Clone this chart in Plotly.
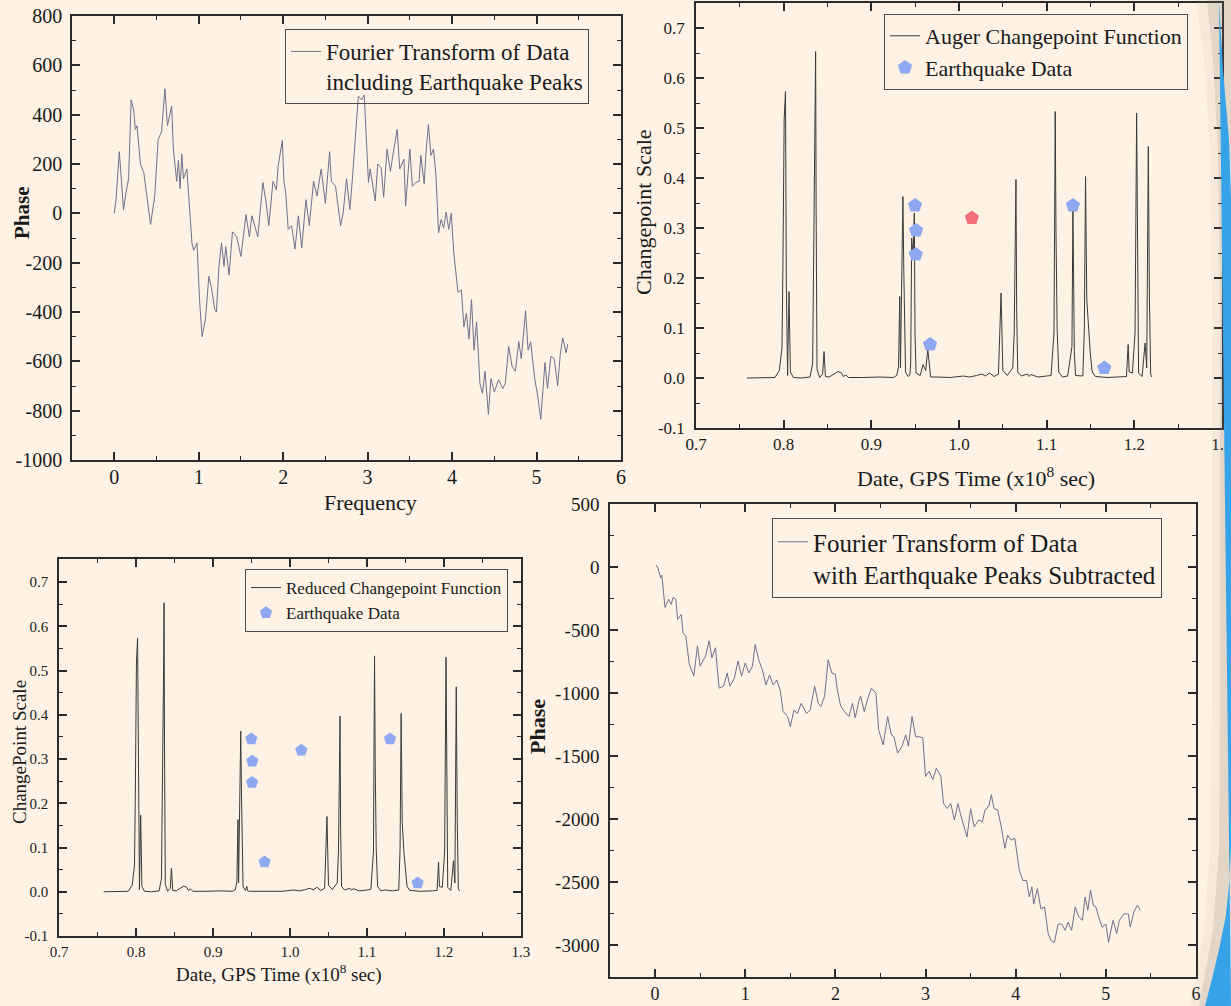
import plotly.graph_objects as go
import numpy as np

# ---------------- data ----------------
freq_with_eq = [0.0, 0.02, 0.06, 0.09, 0.11, 0.14, 0.17, 0.2, 0.23, 0.25, 0.27, 0.31, 0.35, 0.38, 0.43,
                0.48, 0.52, 0.56, 0.6, 0.63, 0.68, 0.7, 0.74, 0.76, 0.78, 0.8, 0.82, 0.86, 0.88, 0.92,
                0.94, 0.98, 1.01, 1.04, 1.08, 1.12, 1.15, 1.19, 1.21, 1.24, 1.27, 1.3, 1.32, 1.36, 1.4,
                1.45, 1.5, 1.56, 1.6, 1.63, 1.7, 1.76, 1.8, 1.83, 1.88, 1.92, 1.94, 1.99, 2.01, 2.03,
                2.06, 2.1, 2.14, 2.18, 2.22, 2.27, 2.31, 2.36, 2.4, 2.45, 2.5, 2.55, 2.57, 2.62, 2.68,
                2.71, 2.75, 2.79, 2.82, 2.89, 2.93, 2.96, 3.01, 3.03, 3.09, 3.12, 3.16, 3.19, 3.23, 3.27,
                3.31, 3.35, 3.38, 3.43, 3.45, 3.5, 3.53, 3.57, 3.61, 3.63, 3.67, 3.69, 3.72, 3.75, 3.78,
                3.81, 3.84, 3.87, 3.9, 3.93, 3.96, 3.99, 4.02, 4.07, 4.11, 4.14, 4.17, 4.2, 4.23, 4.26,
                4.29, 4.33, 4.36, 4.39, 4.43, 4.46, 4.5, 4.55, 4.6, 4.63, 4.67, 4.71, 4.75, 4.79, 4.82,
                4.87, 4.9, 4.93, 4.98, 5.01, 5.05, 5.1, 5.13, 5.17, 5.21, 5.25, 5.28, 5.31, 5.35, 5.37]
phase_with_eq = [0, 50, 250, 110, 15, 85, 140, 460, 420, 340, 355, 200, 165, 85, -45,
                 70, 300, 330, 505, 355, 435, 260, 130, 215, 100, 240, 140, 180, 85, -120,
                 -150, -120, -350, -500, -430, -255, -300, -390, -400, -215, -120, -215, -135, -250, -75,
                 -95, -175, -5, -95, -10, -95, 125, 40, -50, 130, 95, 190, 295, 125, 85,
                 -65, -50, -145, -10, -140, 55, -50, 130, 70, 180, 40, 250, 130, 110, -50,
                 0, 140, 15, 140, 475, 460, 480, 125, 180, 50, 200, 185, 65, 260, 170,
                 260, 340, 180, 220, 30, 260, 110, 125, 130, 235, 120, 240, 360, 235, 260,
                 150, -80, -25, -60, 5, -65, 0, -160, -320, -310, -460, -405, -510, -350, -555,
                 -440, -690, -730, -640, -815, -670, -725, -675, -710, -690, -540, -620, -640, -520, -590,
                 -395, -555, -520, -675, -730, -835, -605, -710, -580, -590, -700, -575, -505, -565, -530]

freq_subtracted = [0.015, 0.035, 0.06, 0.075, 0.11, 0.15, 0.18, 0.2, 0.23, 0.25, 0.29, 0.31, 0.34, 0.38, 0.43,
                   0.47, 0.5, 0.56, 0.6, 0.63, 0.67, 0.71, 0.76, 0.8, 0.83, 0.88, 0.92, 0.96, 1.0, 1.04,
                   1.08, 1.11, 1.15, 1.19, 1.23, 1.27, 1.31, 1.35, 1.39, 1.42, 1.47, 1.5, 1.54, 1.58, 1.62,
                   1.68, 1.72, 1.77, 1.81, 1.84, 1.88, 1.92, 1.96, 2.0, 2.02, 2.06, 2.1, 2.15, 2.19, 2.22,
                   2.26, 2.28, 2.32, 2.36, 2.4, 2.45, 2.48, 2.53, 2.58, 2.62, 2.65, 2.69, 2.74, 2.78, 2.81,
                   2.85, 2.89, 2.93, 2.97, 3.0, 3.04, 3.08, 3.12, 3.17, 3.2, 3.24, 3.28, 3.32, 3.36, 3.39,
                   3.46, 3.5, 3.54, 3.59, 3.63, 3.66, 3.7, 3.73, 3.76, 3.8, 3.84, 3.88, 3.91, 3.95, 3.99,
                   4.04, 4.08, 4.12, 4.15, 4.18, 4.2, 4.24, 4.28, 4.32, 4.36, 4.39, 4.43, 4.47, 4.51, 4.55,
                   4.58, 4.62, 4.66, 4.7, 4.74, 4.77, 4.8, 4.83, 4.86, 4.89, 4.92, 4.96, 5.0, 5.03, 5.08,
                   5.12, 5.15, 5.2, 5.25, 5.27, 5.31, 5.35, 5.38]
phase_subtracted = [15, -15, -85, -65, -320, -255, -295, -240, -255, -415, -375, -520, -545, -770, -865,
                    -625, -785, -705, -585, -720, -640, -960, -945, -840, -945, -880, -745, -865, -760, -840,
                    -785, -615, -735, -815, -935, -855, -935, -895, -985, -1145, -1185, -1265, -1135, -1160, -1080,
                    -1160, -1135, -945, -1080, -1105, -1025, -735, -840, -850, -970, -1105, -1145, -1185, -1080, -1195,
                    -1065, -1025, -1145, -1040, -960, -1000, -1290, -1410, -1185, -1330, -1345, -1475, -1420, -1330, -1420,
                    -1185, -1345, -1345, -1355, -1660, -1620, -1685, -1595, -1660, -1875, -1915, -1875, -2005, -1875, -1965,
                    -2140, -1915, -2060, -2005, -2020, -1925, -1900, -1805, -1915, -1925, -2060, -2230, -2125, -2165, -2150,
                    -2405, -2485, -2485, -2615, -2535, -2670, -2550, -2710, -2695, -2905, -2960, -2975, -2830, -2830, -2880,
                    -2815, -2880, -2695, -2775, -2800, -2615, -2720, -2560, -2680, -2695, -2775, -2855, -2830, -2975, -2800,
                    -2905, -2800, -2750, -2750, -2855, -2735, -2680, -2720]

gps_time = [0.758, 0.770, 0.780, 0.790, 0.795, 0.798, 0.799, 0.8005, 0.802, 0.803, 0.8044, 0.806, 0.8076,
            0.811, 0.820, 0.830, 0.833, 0.8356, 0.8364, 0.837, 0.838, 0.841, 0.8444, 0.846, 0.8476, 0.852,
            0.857, 0.862, 0.866, 0.868, 0.871, 0.874, 0.890, 0.910, 0.925, 0.929, 0.931, 0.9324, 0.9332,
            0.935, 0.936, 0.937, 0.939, 0.942, 0.944, 0.9449, 0.946, 0.9476, 0.949, 0.9498, 0.951, 0.9556,
            0.959, 0.962, 0.9644, 0.966, 0.9676, 0.975, 0.990, 1.005, 1.012, 1.020, 1.026, 1.030, 1.035,
            1.040, 1.045, 1.048, 1.0489, 1.050, 1.055, 1.058, 1.0613, 1.063, 1.065, 1.0658, 1.067, 1.071,
            1.078, 1.080, 1.082, 1.090, 1.100, 1.105, 1.1084, 1.1098, 1.1107, 1.112, 1.1138, 1.118, 1.124,
            1.1289, 1.130, 1.1316, 1.133, 1.1413, 1.143, 1.1444, 1.1458, 1.148, 1.1498, 1.152, 1.1556,
            1.170, 1.185, 1.1911, 1.193, 1.1942, 1.1978, 1.2009, 1.2027, 1.2036, 1.2049, 1.2089, 1.2124,
            1.2142, 1.216, 1.2173, 1.2187, 1.220]
auger_scale = [0, 0, 0, 0.001, 0.015, 0.06, 0.21, 0.517, 0.573, 0.183, 0.005, 0.173, 0.012,
               0.001, 0, 0.002, 0.03, 0.47, 0.653, 0.33, 0.017, 0.001, 0.008, 0.053, 0.003, 0.002,
               0.008, 0.013, 0.01, 0.003, 0.006, 0.001, 0.001, 0.002, 0.001, 0.005, 0.023, 0.163, 0.02,
               0.27, 0.363, 0.217, 0.012, 0.003, 0.006, 0.03, 0.28, 0.243, 0.33, 0.09, 0.01, 0.005,
               0.027, 0.015, 0.057, 0.03, 0.002, 0.002, 0.001, 0.004, 0.002, 0.005, 0.008, 0.004, 0.01,
               0.003, 0.008, 0.17, 0.117, 0.015, 0.005, 0.012, 0.02, 0.09, 0.397, 0.137, 0.012, 0.004,
               0.008, 0.003, 0.007, 0.002, 0.003, 0.005, 0.09, 0.533, 0.29, 0.097, 0.012, 0.002, 0.004,
               0.063, 0.343, 0.05, 0.005, 0.004, 0.097, 0.403, 0.157, 0.09, 0.05, 0.012, 0.003,
               0.001, 0.002, 0.003, 0.067, 0.012, 0.01, 0.09, 0.53, 0.27, 0.01, 0.003, 0.07,
               0.02, 0.463, 0.157, 0.008, 0.002]
reduced_scale = [0, 0, 0, 0.001, 0.015, 0.06, 0.21, 0.517, 0.573, 0.183, 0.005, 0.173, 0.012,
                 0.001, 0, 0.002, 0.03, 0.47, 0.653, 0.33, 0.017, 0.001, 0.008, 0.053, 0.003, 0.002,
                 0.008, 0.013, 0.01, 0.003, 0.006, 0.001, 0.001, 0.002, 0.001, 0.005, 0.023, 0.163, 0.02,
                 0.27, 0.363, 0.217, 0.012, 0.003, 0.012, 0.002, 0.001, 0.001, 0.001, 0.001, 0.001, 0.001,
                 0.001, 0.001, 0.001, 0.001, 0.001, 0.002, 0.001, 0.004, 0.002, 0.005, 0.008, 0.004, 0.01,
                 0.003, 0.008, 0.17, 0.117, 0.015, 0.005, 0.012, 0.02, 0.09, 0.397, 0.137, 0.012, 0.004,
                 0.008, 0.003, 0.007, 0.002, 0.003, 0.005, 0.09, 0.533, 0.29, 0.097, 0.012, 0.002, 0.004,
                 0.003, 0.002, 0.002, 0.002, 0.004, 0.097, 0.403, 0.157, 0.09, 0.05, 0.012, 0.003,
                 0.001, 0.002, 0.003, 0.067, 0.012, 0.01, 0.09, 0.53, 0.27, 0.01, 0.003, 0.07,
                 0.02, 0.463, 0.157, 0.008, 0.002]

eq_time = [0.9498, 0.951, 0.9507, 0.967, 1.130, 1.1658]
eq_scale = [0.345, 0.295, 0.247, 0.067, 0.345, 0.020]
eq_highlight_time = [1.0147]
eq_highlight_scale = [0.320]

freq_ticks = [0, 1, 2, 3, 4, 5, 6]
phase1_ticks = [-1000, -800, -600, -400, -200, 0, 200, 400, 600, 800]
phase4_ticks = [-3000, -2500, -2000, -1500, -1000, -500, 0, 500]
time_ticks = [0.7, 0.8, 0.9, 1.0, 1.1, 1.2, 1.3]
scale_ticks = [-0.1, 0.0, 0.1, 0.2, 0.3, 0.4, 0.5, 0.6, 0.7]

# ---------------- styling ----------------
W, H = 1231, 1006
BG = "#FDF2E3"
AX = "#2a2a2a"
SERIF = "Liberation Serif"
FT_COLOR = "#70708c"
CP_COLOR = "#3a3a3a"
EQ_BLUE = "#8FA8F2"
EQ_RED = "#F2707A"


def px_x(v):
    return v / W


def px_y(v):
    return 1 - v / H


def axis(domain, anchor, rng, ticks, labels, minor_step, size, pad):
    lo, hi = rng
    minor_vals = list(np.arange(np.ceil(lo / minor_step) * minor_step, hi + minor_step * 0.01, minor_step))
    return dict(domain=domain, anchor=anchor, range=rng, showline=True, linecolor=AX, linewidth=1.6,
                mirror="allticks", ticks="inside", ticklen=8, tickwidth=1.5, tickcolor=AX,
                minor=dict(ticks="inside", ticklen=4, tickwidth=1.3, tickcolor=AX,
                           tickmode="array", tickvals=minor_vals),
                showgrid=False, zeroline=False, tickmode="array", tickvals=ticks, ticktext=labels,
                tickfont=dict(family=SERIF, size=size, color="#1a1a1a"), ticklabelstandoff=pad,
                ticklabeloverflow="allow", automargin=False, fixedrange=True)


def fmt1(v):
    return "%.1f" % v


fig = go.Figure()

fig.add_trace(go.Scatter(x=freq_with_eq, y=phase_with_eq, mode="lines", xaxis="x", yaxis="y",
                         line=dict(color=FT_COLOR, width=1),
                         name="Fourier Transform of Data<br>including Earthquake Peaks", legend="legend"))

fig.add_trace(go.Scatter(x=gps_time, y=auger_scale, mode="lines", xaxis="x2", yaxis="y2",
                         line=dict(color=CP_COLOR, width=1), name="Auger Changepoint Function",
                         legend="legend2"))
fig.add_trace(go.Scatter(x=eq_time, y=eq_scale, mode="markers", xaxis="x2", yaxis="y2",
                         marker=dict(symbol="pentagon", size=15, color=EQ_BLUE, line=dict(width=0)),
                         name="Earthquake Data", legend="legend2"))
fig.add_trace(go.Scatter(x=eq_highlight_time, y=eq_highlight_scale, mode="markers", xaxis="x2", yaxis="y2",
                         marker=dict(symbol="pentagon", size=15, color=EQ_RED, line=dict(width=0)),
                         name="Earthquake Data (highlighted)", showlegend=False))

fig.add_trace(go.Scatter(x=gps_time, y=reduced_scale, mode="lines", xaxis="x3", yaxis="y3",
                         line=dict(color=CP_COLOR, width=1), name="Reduced Changepoint Function",
                         legend="legend3"))
fig.add_trace(go.Scatter(x=eq_time + eq_highlight_time, y=eq_scale + eq_highlight_scale, mode="markers",
                         xaxis="x3", yaxis="y3",
                         marker=dict(symbol="pentagon", size=13, color=EQ_BLUE, line=dict(width=0)),
                         name="Earthquake Data", legend="legend3"))

fig.add_trace(go.Scatter(x=freq_subtracted, y=phase_subtracted, mode="lines", xaxis="x4", yaxis="y4",
                         line=dict(color=FT_COLOR, width=1),
                         name="Fourier Transform of Data<br>with Earthquake Peaks Subtracted", legend="legend4"))

dom1x = [px_x(72), px_x(621)]
dom1y = [px_y(460), px_y(16)]
dom2x = [px_x(696), px_x(1222)]
dom2y = [px_y(428), px_y(3)]
dom3x = [px_x(59), px_x(521)]
dom3y = [px_y(936), px_y(559)]
dom4x = [px_x(610), px_x(1196)]
dom4y = [px_y(977), px_y(504)]

layout = dict(
    width=W, height=H, margin=dict(l=0, r=0, t=0, b=0, autoexpand=False),
    paper_bgcolor=BG, plot_bgcolor=BG, showlegend=True,
    xaxis=axis(dom1x, "y", [-0.5, 6.0], freq_ticks, [str(v) for v in freq_ticks], 0.5, 20, -2),
    yaxis=axis(dom1y, "x", [-1000, 800], phase1_ticks, [str(v) for v in phase1_ticks], 100, 20, 4),
    xaxis2=axis(dom2x, "y2", [0.6999, 1.3001], time_ticks, [fmt1(v) for v in time_ticks], 0.05, 17, 0),
    yaxis2=axis(dom2y, "x2", [-0.1, 0.75], scale_ticks, [fmt1(v) for v in scale_ticks], 0.05, 17, 6),
    xaxis3=axis(dom3x, "y3", [0.6999, 1.3001], time_ticks, [fmt1(v) for v in time_ticks], 0.05, 15, 1),
    yaxis3=axis(dom3y, "x3", [-0.1, 0.752], scale_ticks, [fmt1(v) for v in scale_ticks], 0.05, 15, 6),
    xaxis4=axis(dom4x, "y4", [-0.5, 6.0], freq_ticks, [str(v) for v in freq_ticks], 0.5, 18, 0),
    yaxis4=axis(dom4y, "x4", [-3250, 500], phase4_ticks, [str(v) for v in phase4_ticks], 250, 19, 5),
)


def legend_box(x, y, size):
    return dict(x=px_x(x), y=px_y(y), xanchor="left", yanchor="top", xref="paper", yref="paper",
                bgcolor="rgba(0,0,0,0)", bordercolor="#4a4a4a", borderwidth=1, valign="top",
                font=dict(family=SERIF, size=size, color="#1a1a1a"), tracegroupgap=0,
                itemclick=False, itemdoubleclick=False)


layout["legend"] = legend_box(285, 29, 23)
layout["legend2"] = legend_box(884, 14, 22)
layout["legend3"] = legend_box(245, 569, 17)
layout["legend4"] = legend_box(772, 518, 25)

titles = [
    ("<b>Phase</b>", 22, 213, -90, 21),
    ("Frequency", 370, 502, 0, 22),
    ("Changepoint Scale", 643, 212, -90, 22),
    ("Date, GPS Time (x10<sup>8</sup> sec)", 976, 477, 0, 22),
    ("ChangePoint Scale", 19, 752, -90, 19),
    ("Date, GPS Time (x10<sup>8</sup> sec)", 279, 973, 0, 19),
    ("<b>Phase</b>", 537, 727, -90, 22),
]
layout["annotations"] = [
    dict(text=t, x=px_x(x), y=px_y(y), xref="paper", yref="paper", xanchor="center", yanchor="middle",
         textangle=a, showarrow=False, font=dict(family=SERIF, size=s, color="#1a1a1a"))
    for t, x, y, a, s in titles
]


def path_from_px(points):
    return "M " + " L ".join("%.5f,%.5f" % (px_x(a), px_y(b)) for a, b in points) + " Z"


shadow_outer = [(1196, 0), (1204, 60), (1210, 150), (1212, 300), (1212, 700), (1210, 850), (1204, 930),
                (1190, 1006), (1231, 1006), (1231, 0)]
shadow_inner = [(1207, 0), (1213, 60), (1218, 150), (1220, 300), (1220, 700), (1219, 850), (1213, 930),
                (1199, 1006), (1231, 1006), (1231, 0)]
blue_edge = [(1219, 0), (1221, 35), (1223, 70), (1226, 105), (1229, 140), (1231, 200), (1231, 850),
             (1229, 885), (1226, 915), (1220, 945), (1213, 975), (1205, 1006), (1231, 1006)]
layout["shapes"] = [
    dict(type="path", path=path_from_px(shadow_outer), xref="paper", yref="paper",
         fillcolor="rgba(140,125,110,0.08)", line=dict(width=0), layer="above"),
    dict(type="path", path=path_from_px(shadow_inner), xref="paper", yref="paper",
         fillcolor="rgba(120,110,100,0.15)", line=dict(width=0), layer="above"),
    dict(type="path", path=path_from_px(blue_edge), xref="paper", yref="paper",
         fillcolor="#36A3E8", line=dict(width=0), layer="above"),
]

fig.update_layout(**layout)
fig.write_html("out.html", config={"displayModeBar": False})
